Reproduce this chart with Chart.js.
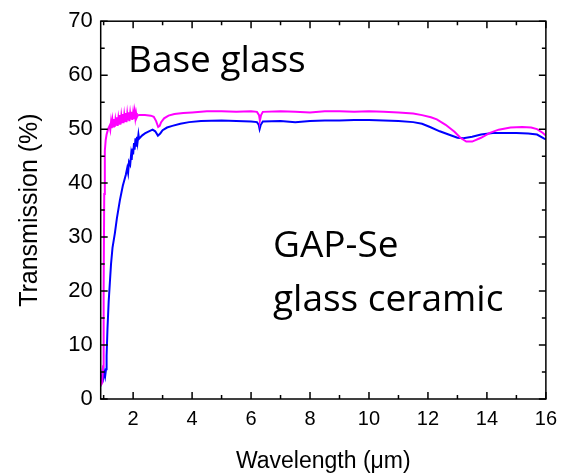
<!DOCTYPE html>
<html>
<head>
<meta charset="utf-8">
<script src="https://cdn.jsdelivr.net/npm/chart.js@4.4.1/dist/chart.umd.min.js"></script>
<style>
  body { margin: 0; background: #fff; }
  canvas { display: block; }
</style>
</head>
<body>
<canvas id="myChart" width="565" height="475"></canvas>
<script>
// base glass (magenta)
const baseX = [0.9, 0.95, 0.98, 1.0, 1.02, 1.04, 1.07, 1.1, 1.15,
  1.2, 1.225, 1.25, 1.275, 1.3, 1.325, 1.35, 1.375, 1.4, 1.425, 1.45, 1.475, 1.5, 1.525, 1.55, 1.575, 1.6, 1.625,
  1.65, 1.675, 1.7, 1.725, 1.75, 1.775, 1.8, 1.825, 1.85, 1.875, 1.9, 1.925, 1.95, 1.975, 2.0, 2.025, 2.05, 2.075,
  2.1, 2.125, 2.15,
  2.2, 2.4, 2.6, 2.7, 2.78, 2.85, 2.9, 2.95, 3.05, 3.2, 3.4, 3.7, 4.0, 4.5, 5, 5.5, 6.0, 6.2, 6.27, 6.3, 6.34, 6.4,
  7, 7.5, 8, 8.5, 9, 9.5, 10, 10.5, 11, 11.5, 11.8, 12.1, 12.3, 12.6, 12.9, 13.1, 13.3, 13.5, 13.8, 14.1, 14.4,
  14.8, 15.2, 15.5, 15.7, 15.9, 16.0];
const baseT = [2.5, 3, 6, 20, 38, 46, 48, 49, 50,
  50.6, 49.9, 51.3, 50.2, 51.6, 50.5, 51.9, 50.4, 51.7, 50.8, 52.2, 50.6, 52.0, 51.0, 52.6, 50.9, 52.4, 51.3,
  52.8, 51.1, 52.6, 51.5, 53.0, 51.3, 52.8, 51.6, 53.1, 51.5, 52.9, 51.8, 53.2, 51.7, 53.0, 51.9, 53.2, 52.0,
  53.0, 52.2, 52.5,
  52.6, 52.6, 52.5, 52.3, 51.5, 50.4, 50.6, 51.3, 52.0, 52.5, 52.8, 53.0, 53.1, 53.3, 53.3, 53.2, 53.3, 53.2, 52.6, 51.6, 52.6, 53.2,
  53.3, 53.2, 53.1, 53.3, 53.3, 53.2, 53.3, 53.2, 53.1, 52.9, 52.6, 52.2, 51.8, 50.8, 49.5, 48.4, 47.7, 47.7, 48.4, 49.3, 49.9,
  50.3, 50.4, 50.3, 50.0, 49.3, 48.8];

// GAP-Se glass ceramic (blue)
const ceramX = [0.9, 0.93, 0.96, 0.99, 1.02, 1.05, 1.08, 1.1, 1.13, 1.17, 1.21, 1.25, 1.3, 1.38, 1.45, 1.55, 1.65, 1.75,
  1.8, 1.83, 1.86, 1.9, 1.93, 1.95, 1.98, 2.0, 2.03, 2.05, 2.08, 2.1, 2.13, 2.15, 2.18, 2.2, 2.3, 2.4, 2.5, 2.66,
  2.75, 2.84, 2.92, 3.0, 3.15, 3.33, 3.6, 3.9, 4.3,
  5, 5.5, 6.0, 6.2, 6.26, 6.29, 6.33, 6.4, 7, 7.5, 8, 8.5, 9, 9.5, 10, 10.5, 11, 11.5, 11.8, 12.07, 12.4, 12.7,
  13.0, 13.2, 13.5, 13.8, 14.2, 14.6, 15.0, 15.4, 15.7, 15.93, 16];
const ceramT = [4.5, 3.5, 5, 4, 5, 4.2, 5.5, 8, 13, 18, 21.5, 25, 28, 30.7, 33.5, 36.8, 39.5, 41.5,
  42.8, 41.9, 43.9, 43.4, 45.2, 44.3, 46.4, 45.3, 47.4, 46.2, 48.3, 46.9, 48.6, 47.6, 49.0, 48.2, 48.8, 49.2, 49.5, 49.9,
  49.6, 48.8, 49.2, 49.8, 50.3, 50.6, 51.0, 51.3, 51.5,
  51.6, 51.5, 51.4, 51.3, 50.8, 50.0, 50.8, 51.4, 51.5, 51.3, 51.5, 51.6, 51.6, 51.7, 51.7, 51.6, 51.5, 51.3, 51.0, 50.4, 49.6, 49.0,
  48.4, 48.3, 48.6, 49.0, 49.3, 49.3, 49.3, 49.2, 49.0, 48.3, 48.1];

const xTicks = [2, 4, 6, 8, 10, 12, 14, 16];
const xMinor = [1, 3, 5, 7, 9, 11, 13, 15];
const yTicks = [0, 10, 20, 30, 40, 50, 60, 70];
const yMinor = [5, 15, 25, 35, 45, 55, 65];

function pts(xs, ys) {
  return xs.map((x, i) => ({ x: x, y: ys[i] }));
}

const frame = {
  id: 'frame',
  afterDraw(chart) {
    const ctx = chart.ctx;
    const a = chart.chartArea;
    const sx = chart.scales.x;
    const sy = chart.scales.y;
    ctx.save();
    ctx.strokeStyle = '#000';
    ctx.lineWidth = 1.5;
    ctx.strokeRect(a.left, a.top, a.right - a.left, a.bottom - a.top);
    ctx.beginPath();
    const tick = (vals, len) => {
      vals.forEach(v => {
        const px = sx.getPixelForValue(v);
        ctx.moveTo(px, a.bottom); ctx.lineTo(px, a.bottom - len);
        ctx.moveTo(px, a.top); ctx.lineTo(px, a.top + len);
      });
    };
    const ytick = (vals, len) => {
      vals.forEach(v => {
        const py = sy.getPixelForValue(v);
        ctx.moveTo(a.left, py); ctx.lineTo(a.left + len, py);
        ctx.moveTo(a.right, py); ctx.lineTo(a.right - len, py);
      });
    };
    tick(xTicks, 7); tick(xMinor, 4);
    ytick(yTicks, 7); ytick(yMinor, 4);
    ctx.stroke();

    ctx.fillStyle = '#000';
    ctx.font = '37px "Open Sans"';
    ctx.textBaseline = 'alphabetic';
    ctx.textAlign = 'left';
    ctx.fillText('Base glass', 128, 72);
    ctx.fillText('GAP-Se', 273, 257);
    ctx.fillText('glass ceramic', 273, 311);
    ctx.restore();
  }
};

const ctx = document.getElementById('myChart').getContext('2d');
const myChart = new Chart(ctx, {
  type: 'line',
  data: {
    datasets: [{
      label: 'Base glass',
      data: pts(baseX, baseT),
      borderColor: '#ff00ff',
      borderWidth: 2,
      pointRadius: 0,
      tension: 0
    },
    {
      label: 'GAP-Se glass ceramic',
      data: pts(ceramX, ceramT),
      borderColor: '#0000ff',
      borderWidth: 2,
      pointRadius: 0,
      tension: 0
    }]
  },
  options: {
    responsive: false,
    animation: false,
    layout: { padding: { top: 20, right: 15, left: 0, bottom: 0 } },
    plugins: { legend: { display: false }, tooltip: { enabled: false } },
    scales: {
      x: {
        type: 'linear',
        min: 0.9,
        max: 16,
        afterBuildTicks: s => { s.ticks = xTicks.map(v => ({ value: v })); },
        afterFit: s => { s.height = 76; },
        grid: { display: false, drawTicks: false },
        border: { display: false },
        ticks: { color: '#000', padding: 8, maxRotation: 0, font: { family: '"Liberation Sans", Arial', size: 20 } },
        title: { display: true, text: 'Wavelength (\u03bcm)', color: '#000', padding: { top: 0, bottom: 0 },
          font: { family: '"Liberation Sans", Arial', size: 23 } }
      },
      y: {
        min: 0,
        max: 70,
        afterBuildTicks: s => { s.ticks = yTicks.map(v => ({ value: v })); },
        afterFit: s => { s.width = 100.7; },
        grid: { display: false, drawTicks: false },
        border: { display: false },
        ticks: { color: '#000', padding: 8, font: { family: '"Liberation Sans", Arial', size: 22 } },
        title: { display: true, text: 'Transmission (%)', color: '#000', padding: { top: 15, bottom: 0 },
          font: { family: '"Liberation Sans", Arial', size: 25 } }
      }
    }
  },
  plugins: [frame]
});
</script>
</body>
</html>
